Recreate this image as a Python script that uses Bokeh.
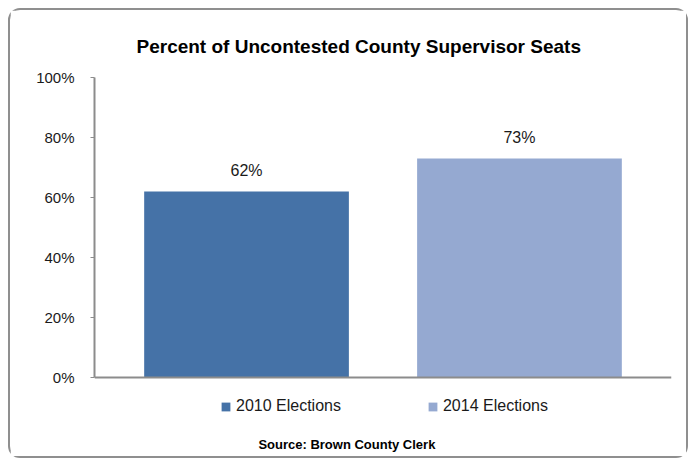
from bokeh.plotting import figure
from bokeh.models import (FactorRange, Range1d, NumeralTickFormatter, ColumnDataSource,
                          LabelSet, Label, Legend, LegendItem, FixedTicker, Span)
from bokeh.core.properties import value
from bokeh.embed import file_html
from bokeh.resources import INLINE

# data
categories = ["2010 Elections", "2014 Elections"]
values = [0.62, 0.73]
value_labels = ["62%", "73%"]
colors = ["#4572A7", "#95A9D1"]
y_ticks = [0, 0.2, 0.4, 0.6, 0.8, 1.0]
title_text = "Percent of Uncontested County Supervisor Seats"
source_text = "Source:  Brown County  Clerk"

FONT = "Liberation Sans"

src = ColumnDataSource(dict(cat=categories, val=values, lab=value_labels, col=colors))

# the frame extends below the 0% line to hold the legend and the source note
p = figure(width=680, height=450, output_backend="svg", toolbar_location=None,
           x_range=FactorRange(*categories, range_padding=0.057, range_padding_units="absolute"),
           y_range=Range1d(-80 / 300, 1))
p.min_border_left = 84
p.min_border_right = 19
p.min_border_top = 67
p.min_border_bottom = 3
p.outline_line_color = None
p.background_fill_color = "white"
p.border_fill_color = "white"
p.xgrid.visible = False
p.ygrid.visible = False
p.styles = {"margin": "8px 0 0 8px", "border": "2px solid #8f8f8f",
            "border-radius": "12px", "box-sizing": "border-box"}

# title
p.title.text = title_text
p.title.align = "left"
p.title.offset = 42
p.title.standoff = 41
p.title.text_font = FONT
p.title.text_font_size = "19px"
p.title.text_font_style = "bold"
p.title.text_color = "#000000"

r = p.vbar(x="cat", top="val", width=0.75, color="col", line_color=None, source=src)

p.add_layout(LabelSet(x="cat", y="val", text="lab", source=src, y_offset=21,
                      text_align="center", text_baseline="middle",
                      text_font=value(FONT), text_font_size="16px", text_color="#1a1a1a"))

# baseline (category axis line)
p.add_layout(Span(location=0, dimension="width", line_color="#8c8c8c", line_width=2))

# axes
p.xaxis.visible = False
p.yaxis.bounds = (0, 1)
p.yaxis.ticker = FixedTicker(ticks=y_ticks)
p.yaxis.formatter = NumeralTickFormatter(format="0%")
p.yaxis.axis_line_color = "#8c8c8c"
p.yaxis.axis_line_width = 2
p.yaxis.major_tick_line_color = "#8c8c8c"
p.yaxis.major_tick_out = 4
p.yaxis.major_tick_in = 0
p.yaxis.minor_tick_line_color = None
p.yaxis.major_label_standoff = 16
p.yaxis.major_label_text_font = FONT
p.yaxis.major_label_text_font_size = "15px"
p.yaxis.major_label_text_color = "#1a1a1a"

# legend
items = []
for i, c in enumerate(categories):
    items.append(LegendItem(label=c, renderers=[r], index=i))
legend = Legend(items=items, orientation="horizontal", location=(126, 42),
                glyph_width=11, glyph_height=11, label_standoff=5, spacing=86,
                padding=0, margin=0, border_line_color=None, background_fill_alpha=0,
                label_text_font=FONT, label_text_font_size="16px", label_text_color="#1a1a1a",
                label_height=16)
p.add_layout(legend, "center")

# source note
p.add_layout(Label(x=256, y=13, x_units="screen", y_units="screen", text=source_text,
                   text_align="center", text_baseline="middle", text_font=FONT,
                   text_font_size="13px", text_font_style="bold", text_color="#000000"))

open("out.html", "w").write(file_html(p, INLINE))
